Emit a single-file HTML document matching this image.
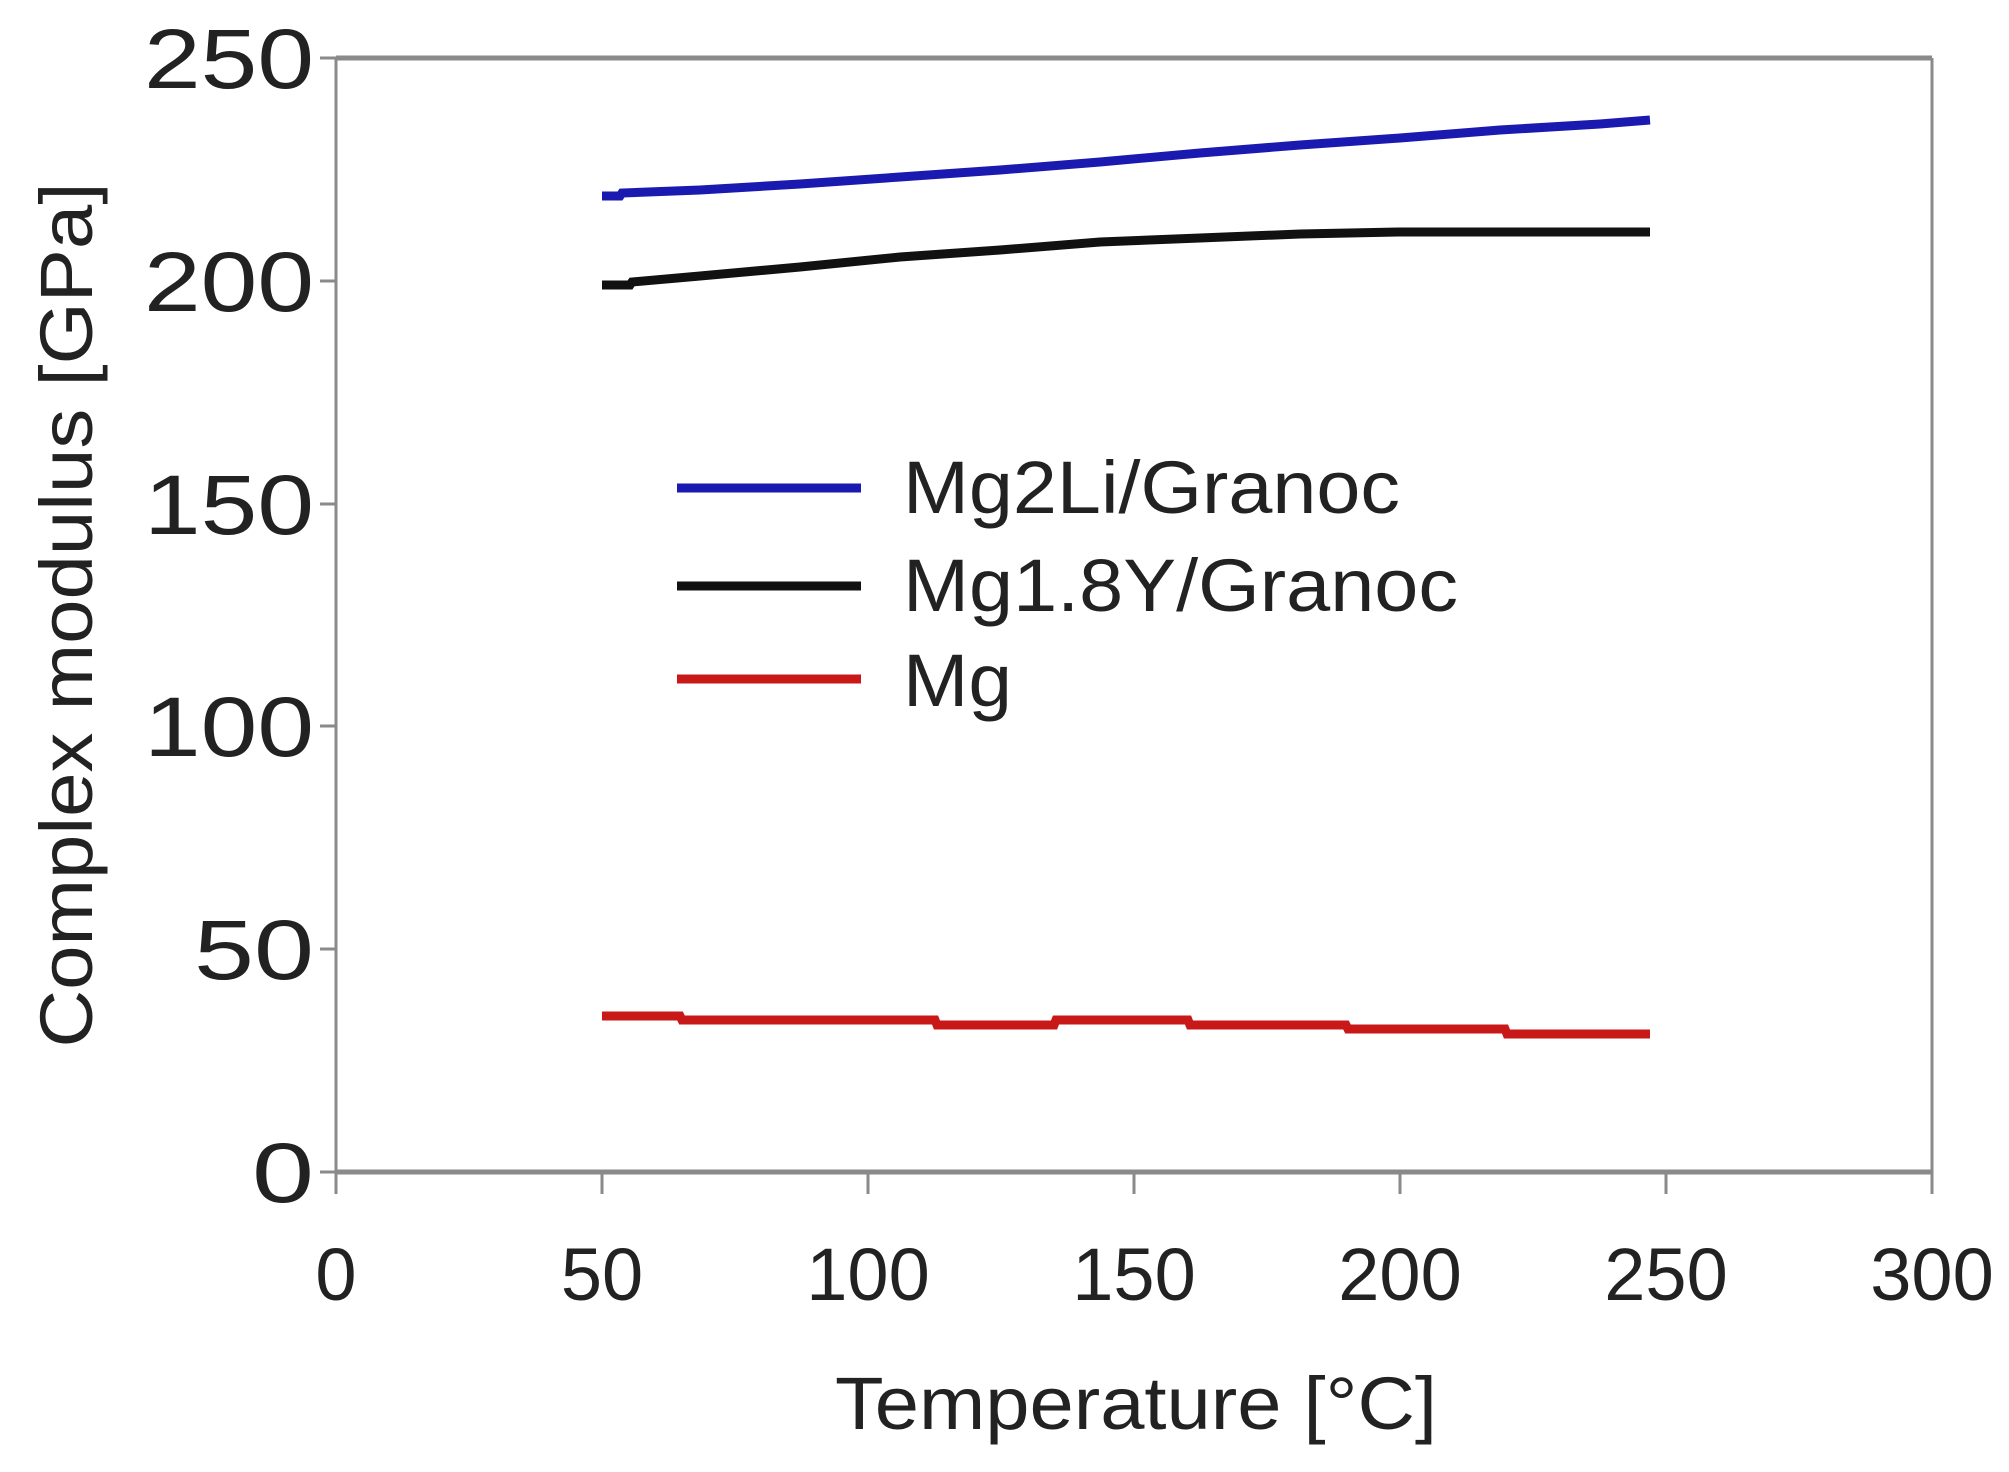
<!DOCTYPE html>
<html><head><meta charset="utf-8"><style>
html,body{margin:0;padding:0;background:#fff;}
svg{display:block;}
text{font-family:"Liberation Sans",sans-serif;fill:#222;}
</style></head><body>
<svg width="2009" height="1472" viewBox="0 0 2009 1472">
<rect width="2009" height="1472" fill="#fff"/>
<g stroke="#8a8a8a" fill="none">
<line x1="336" y1="58" x2="1932" y2="58" stroke-width="5"/>
<line x1="336" y1="1172" x2="1932" y2="1172" stroke-width="5"/>
<line x1="336" y1="58" x2="336" y2="1172" stroke-width="3"/>
<line x1="1932" y1="58" x2="1932" y2="1172" stroke-width="3"/>
<g stroke-width="3">
<line x1="320" y1="58" x2="336" y2="58"/>
<line x1="320" y1="281" x2="336" y2="281"/>
<line x1="320" y1="504" x2="336" y2="504"/>
<line x1="320" y1="726" x2="336" y2="726"/>
<line x1="320" y1="949" x2="336" y2="949"/>
<line x1="320" y1="1172" x2="336" y2="1172"/>
<line x1="336" y1="1172" x2="336" y2="1194"/>
<line x1="602" y1="1172" x2="602" y2="1194"/>
<line x1="868" y1="1172" x2="868" y2="1194"/>
<line x1="1134" y1="1172" x2="1134" y2="1194"/>
<line x1="1400" y1="1172" x2="1400" y2="1194"/>
<line x1="1666" y1="1172" x2="1666" y2="1194"/>
<line x1="1932" y1="1172" x2="1932" y2="1194"/>
</g></g>
<g font-size="84" text-anchor="end">
<text x="314" y="88" textLength="170" lengthAdjust="spacingAndGlyphs">250</text>
<text x="314" y="311" textLength="170" lengthAdjust="spacingAndGlyphs">200</text>
<text x="314" y="534" textLength="170" lengthAdjust="spacingAndGlyphs">150</text>
<text x="314" y="756" textLength="170" lengthAdjust="spacingAndGlyphs">100</text>
<text x="314" y="979" textLength="120" lengthAdjust="spacingAndGlyphs">50</text>
<text x="314" y="1202" textLength="62" lengthAdjust="spacingAndGlyphs">0</text>
</g>
<g font-size="74" text-anchor="middle">
<text x="336" y="1300">0</text>
<text x="602" y="1300">50</text>
<text x="868" y="1300">100</text>
<text x="1134" y="1300">150</text>
<text x="1400" y="1300">200</text>
<text x="1666" y="1300">250</text>
<text x="1932" y="1300">300</text>
<text x="1136" y="1429" font-size="74" textLength="602" lengthAdjust="spacingAndGlyphs">Temperature [°C]</text>
<text transform="translate(92,615) rotate(-90)" font-size="74" textLength="865" lengthAdjust="spacingAndGlyphs">Complex modulus [GPa]</text>
</g>
<g fill="none" stroke-width="9">
<polyline stroke="#1a1ab0" points="602,196 620,196 622,193 700,190 800,184 900,177 1000,170 1100,162 1200,153 1300,145 1400,138 1500,130 1600,124 1650,120"/>
<polyline stroke="#111" points="602,285 630,285 632,282 700,276 800,267 900,257 1000,250 1100,242 1200,238 1300,234 1400,232 1650,232"/>
<polyline stroke="#c81818" points="602,1016 680,1016 682,1020 935,1020 937,1025 1054,1025 1056,1020 1188,1020 1190,1025 1346,1025 1348,1029 1505,1029 1507,1034 1650,1034"/>
<line x1="677" y1="488" x2="861" y2="488" stroke="#1a1ab0"/>
<line x1="677" y1="586" x2="861" y2="586" stroke="#111"/>
<line x1="677" y1="679" x2="861" y2="679" stroke="#c81818"/>
</g>
<g font-size="74">
<text x="903" y="513" textLength="497" lengthAdjust="spacingAndGlyphs">Mg2Li/Granoc</text>
<text x="903" y="611" textLength="555" lengthAdjust="spacingAndGlyphs">Mg1.8Y/Granoc</text>
<text x="903" y="706" textLength="109" lengthAdjust="spacingAndGlyphs">Mg</text>
</g>
</svg>
</body></html>
